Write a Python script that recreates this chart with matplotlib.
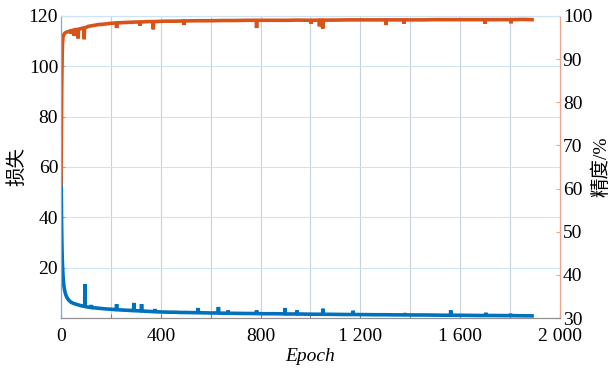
import matplotlib
matplotlib.use('Agg')
import matplotlib.pyplot as plt
from matplotlib.ticker import FuncFormatter

plt.rcParams['font.family'] = ['Liberation Serif', 'Noto Sans CJK SC']

# training loss per epoch (sampled, spikes kept)
loss_epoch = [0, 1, 2, 3, 4, 5, 6, 8, 10, 12, 15, 20, 25, 30, 40, 50, 60, 70, 80, 90,
              95, 96, 97, 100, 110, 120, 121, 122, 123, 140, 160, 180, 200, 220, 222, 223, 224,
              240, 260, 280, 291, 292, 293, 300, 322, 323, 324, 340, 360, 376, 377, 378,
              400, 420, 440, 460, 480, 500, 520, 549, 550, 551, 580, 600, 630, 631, 632,
              660, 669, 670, 671, 700, 740, 760, 783, 784, 785, 820, 860, 897, 898, 899,
              920, 945, 946, 947, 980, 1020, 1049, 1050, 1051, 1100, 1140, 1170, 1171,
              1172, 1220, 1260, 1300, 1340, 1378, 1379, 1380, 1420, 1460, 1500, 1540,
              1561, 1562, 1563, 1600, 1640, 1680, 1702, 1703, 1704, 1740, 1780, 1801,
              1802, 1803, 1840, 1888]
loss = [58, 52, 42, 34, 28, 24, 21, 17, 14.5, 12.5, 10.8, 9, 8, 7.2, 6.3, 5.8, 5.5, 5.2, 4.9, 4.7,
        4.6, 13.5, 4.6, 4.5, 4.3, 4.2, 4.2, 5.2, 4.1, 4.0, 3.8, 3.6, 3.5, 3.3, 3.3, 5.5, 3.3,
        3.2, 3.1, 3.0, 2.9, 6.0, 2.9, 2.9, 2.8, 5.5, 2.8, 2.7, 2.6, 2.5, 3.6, 2.5,
        2.4, 2.35, 2.3, 2.3, 2.2, 2.2, 2.15, 2.1, 4.0, 2.1, 2.05, 2.0, 2.0, 4.4, 1.95,
        1.9, 1.9, 3.0, 1.9, 1.85, 1.8, 1.8, 1.75, 3.0, 1.75, 1.7, 1.7, 1.65, 4.0, 1.6,
        1.6, 1.6, 3.0, 1.6, 1.55, 1.5, 1.5, 3.7, 1.5, 1.45, 1.4, 1.4, 2.9,
        1.4, 1.35, 1.3, 1.3, 1.25, 1.25, 2.0, 1.25, 1.2, 1.2, 1.15, 1.1,
        1.1, 3.0, 1.1, 1.1, 1.05, 1.0, 1.0, 2.1, 1.0, 1.0, 0.95, 0.95,
        1.7, 0.95, 0.9, 0.85]

# accuracy (%) per epoch
acc_epoch = [0, 1, 2, 3, 4, 5, 6, 8, 10, 15, 20, 30, 39, 40, 41, 50, 52, 53, 54, 68, 69, 70,
             80, 92, 93, 94, 110, 130, 150, 170, 200, 222, 223, 224, 260, 300, 316, 317,
             318, 350, 369, 370, 371, 420, 460, 492, 493, 494, 540, 600, 650, 700, 750,
             783, 784, 785, 850, 900, 950, 1002, 1003, 1004, 1035, 1036, 1037, 1048,
             1049, 1050, 1100, 1150, 1200, 1250, 1302, 1303, 1304, 1374, 1375, 1376,
             1450, 1500, 1600, 1698, 1699, 1700, 1760, 1803, 1804, 1805, 1850, 1888]
acc = [61, 68, 76, 83, 88, 91.5, 93.5, 95.0, 95.6, 96.0, 96.2, 96.4, 96.6, 95.9, 96.6, 96.7, 96.7, 95.4, 96.8, 96.9, 94.8, 96.9,
       97.1, 97.2, 94.6, 97.2, 97.6, 97.8, 98.0, 98.1, 98.3, 98.4, 97.2, 98.4, 98.5, 98.6, 98.6, 97.7,
       98.6, 98.7, 98.7, 96.9, 98.7, 98.8, 98.8, 98.85, 97.9, 98.85, 98.9, 98.9, 98.95, 98.95, 99.0,
       99.0, 97.2, 99.0, 99.0, 99.0, 99.05, 99.0, 98.2, 99.0, 99.05, 97.6, 99.05, 99.05,
       97.1, 99.05, 99.05, 99.1, 99.1, 99.1, 99.1, 97.9, 99.1, 99.1, 98.2, 99.1,
       99.1, 99.15, 99.15, 99.15, 98.2, 99.15, 99.15, 99.15, 98.3, 99.15, 99.2, 99.15]

xticks = list(range(0, 2001, 200))
loss_ticks = [20, 40, 60, 80, 100, 120]
acc_ticks = list(range(30, 101, 10))

blue = '#0072BD'
orange = '#D95319'


def fmt_epoch(v, pos):
    v = int(round(v))
    if v % 400:
        return ''
    if v >= 1000:
        return '%d %03d' % (v // 1000, v % 1000)
    return str(v)


fig = plt.figure(figsize=(6.11, 3.70), dpi=100)
ax = fig.add_axes([0.0998, 0.1405, 0.8167, 0.8163])
ax2 = ax.twinx()

ax.plot(loss_epoch, loss, color=blue, lw=2.6, solid_joinstyle='bevel')
ax2.plot(acc_epoch, acc, color=orange, lw=2.6, solid_joinstyle='bevel')

ax.set_xlim(0, 2000)
ax.set_ylim(0, 120)
ax2.set_ylim(30, 100)
ax.set_xticks(xticks)
ax.xaxis.set_major_formatter(FuncFormatter(fmt_epoch))
ax.set_yticks(loss_ticks)
ax2.set_yticks(acc_ticks)

ax.grid(axis='x', color='#c9d2dc', lw=0.8)
ax.grid(axis='y', color='#cfe4f3', lw=0.8)
ax.set_axisbelow(True)

ax.tick_params(axis='x', direction='in', length=3, colors='#808080', labelcolor='black', labelsize=14, pad=7)
ax.tick_params(axis='y', direction='in', length=3, colors='#6fb0de', labelcolor='black', labelsize=14, pad=2)
ax2.tick_params(axis='y', direction='in', length=3, colors='#f0a48c', labelcolor='black', labelsize=14, pad=2)

for a in (ax, ax2):
    a.spines['left'].set_color('#6fb0de')
    a.spines['right'].set_color('#f0a48c')
    a.spines['top'].set_color('#cfe4f3')
    a.spines['bottom'].set_color('#909090')

ax.set_xlabel('Epoch', fontsize=14, style='italic', labelpad=2)
ax.set_ylabel('损失', fontsize=14, labelpad=2)
ax2.set_ylabel('精度/%', fontsize=14, labelpad=0)

fig.savefig('out.png', dpi=100)
